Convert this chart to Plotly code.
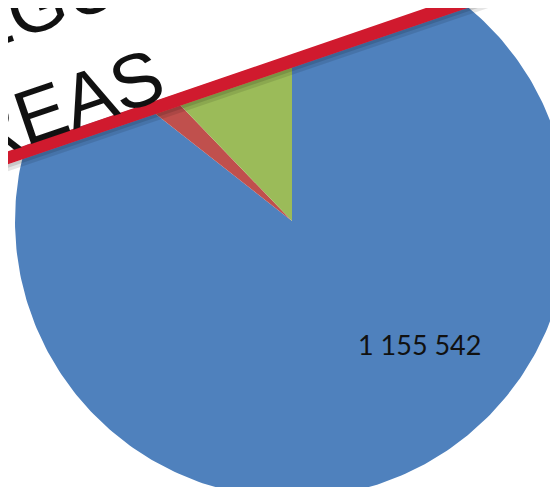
import numpy as np
import plotly.graph_objects as go

# ---- data ----
categories = ["Segmento 1", "Segmento 2", "Segmento 3"]
values = [1155542, 29700, 164800]
value_labels = ["1 155 542", "", ""]
colors = ["#4F81BD", "#C0504D", "#9BBB59"]
banner_line1 = "EGU"
banner_line2 = "REAS"

# ---- geometry (screen pixels of the 558x487 view) ----
W, H = 558, 487
OFF = 8                    # page body margin
CX, CY = 292, 221          # pie centre in screen pixels
R = 277                    # pie radius in pixels


def px(x, y):
    """screen pixel -> data coordinates"""
    return x - CX, CY - y


def paper(x, y):
    """screen pixel -> paper coordinates"""
    return (x - OFF) / W, 1 - (y - OFF) / H


fig = go.Figure()

# pie slices drawn clockwise from 12 o'clock, sizes from the values
total = float(sum(values))
start = 0.0
for name, v, col in zip(categories, values, colors):
    sweep = 2 * np.pi * v / total
    th = np.linspace(start, start + sweep, max(3, int(400 * v / total) + 3))
    xs = np.concatenate([[0], R * np.sin(th), [0]])
    ys = np.concatenate([[0], R * np.cos(th), [0]])
    fig.add_trace(go.Scatter(x=xs, y=ys, mode="lines", fill="toself",
                             fillcolor=col, line=dict(width=0, color=col),
                             name=name, hoverinfo="name+text",
                             text=f"{v:,}".replace(",", " "), showlegend=False))
    start += sweep

# data label of the big slice
lx, ly = px(419, 344)
fig.add_annotation(x=lx, y=ly, text=value_labels[0],
                   showarrow=False, xanchor="center", yanchor="middle",
                   font=dict(family="Lato, Open Sans, sans-serif", size=27, color="#111111"))

# ---- banner (white band with red border) ----
slope = 0.34
def lower(x):
    return 167 - slope * x
band = 13

def path(points):
    pts = [px(x, y) for x, y in points]
    return "M " + " L ".join(f"{a:.2f},{b:.2f}" for a, b in pts) + " Z"

x0, x1 = -20, 488
# shadow
fig.add_shape(type="path", path=path([(x0, lower(x0)), (x1, lower(x1)),
                                      (x1 + 2, lower(x1 + 2) + 7), (x0, lower(x0) + 7)]),
              fillcolor="rgba(0,0,0,0.10)", line=dict(width=0), layer="above")
fig.add_shape(type="path", path=path([(x0, lower(x0)), (x1, lower(x1)),
                                      (x1 + 1, lower(x1 + 1) + 3.5), (x0, lower(x0) + 3.5)]),
              fillcolor="rgba(0,0,0,0.12)", line=dict(width=0), layer="above")
# white part
fig.add_shape(type="path", path=path([(x0, -40), (x0, lower(x0) - band), (x1, lower(x1) - band),
                                      (x1 - 12, -40)]),
              fillcolor="white", line=dict(width=0), layer="above")
# red border
fig.add_shape(type="path", path=path([(x0, lower(x0) - band), (x0, lower(x0)), (x1, lower(x1)),
                                      (x1 - 4, lower(x1) - band)]),
              fillcolor="#D01A2E", line=dict(width=0), layer="above")

ang = -np.degrees(np.arctan(slope))
for txt, (tx, ty), fs in [(banner_line1, (38, 5), 75), (banner_line2, (62, 105), 76)]:
    ax_, ay_ = paper(tx, ty)
    fig.add_annotation(x=ax_, y=ay_, xref="paper", yref="paper", text=txt,
                       showarrow=False, textangle=ang,
                       xanchor="center", yanchor="middle",
                       font=dict(family="Liberation Sans, Arial, sans-serif", size=fs, color="#111111"))

fig.update_layout(
    width=W, height=H, margin=dict(l=0, r=0, t=0, b=0),
    paper_bgcolor="white", plot_bgcolor="white", showlegend=False,
    xaxis=dict(range=[OFF - CX, W + OFF - CX], visible=False, fixedrange=True),
    yaxis=dict(range=[CY - OFF - H, CY - OFF], visible=False, fixedrange=True),
)

fig.write_html("out.html")
